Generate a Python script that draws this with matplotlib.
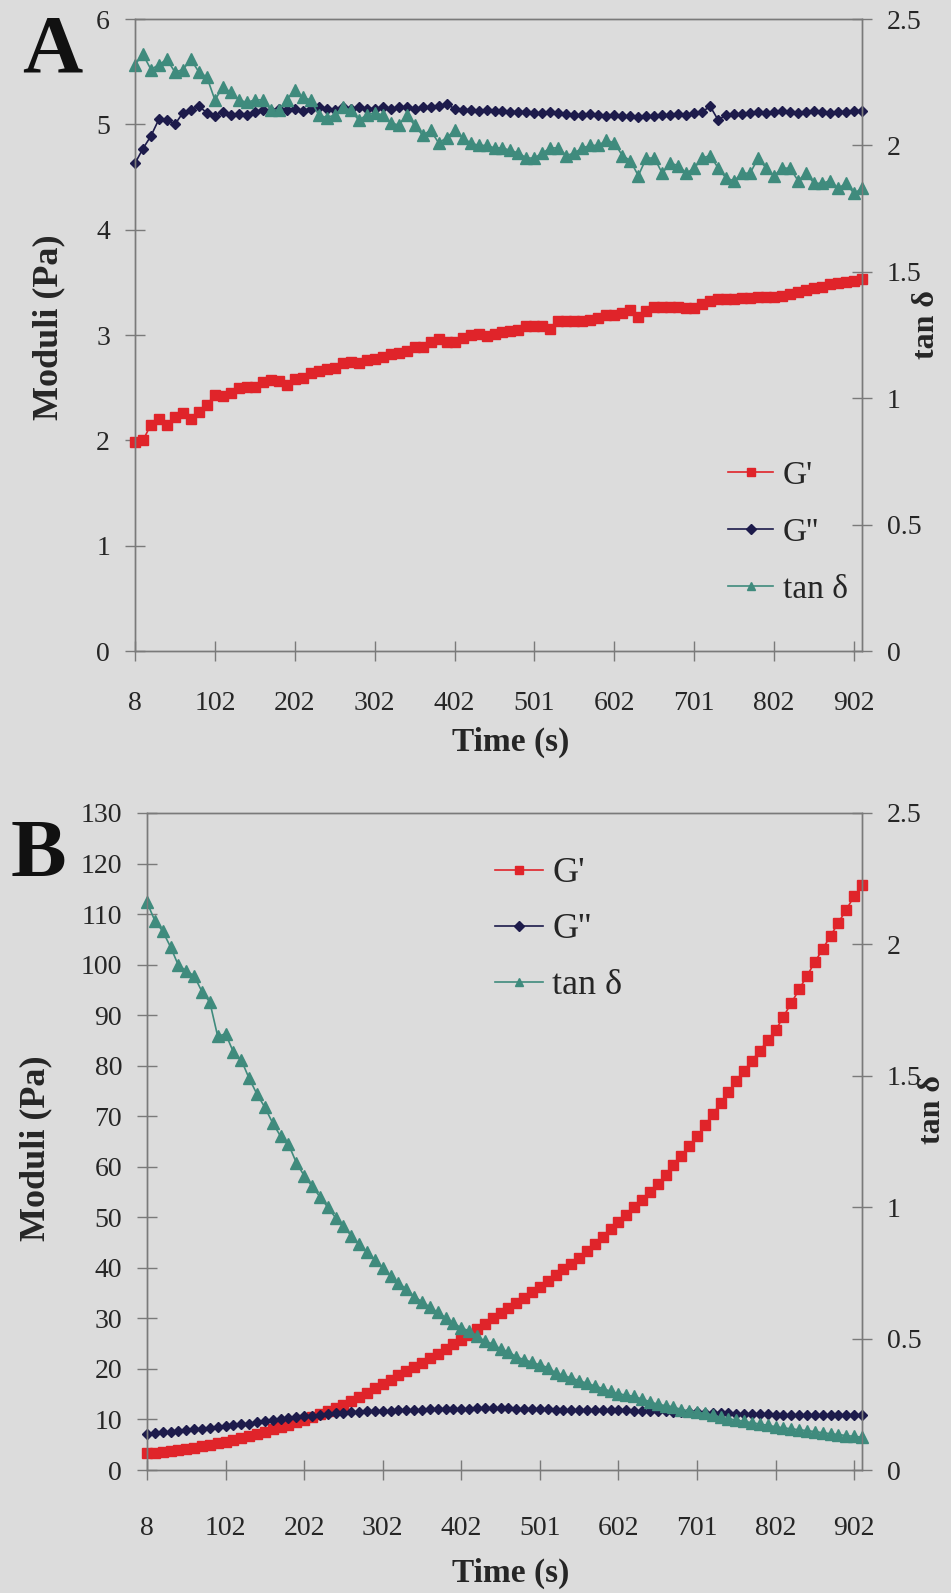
import numpy as np
import matplotlib
matplotlib.use("Agg")
import matplotlib.pyplot as plt

plt.rcParams['font.family'] = ['Liberation Serif', 'DejaVu Serif']

# ---------------- data ----------------
time_labels = ["8", "102", "202", "302", "402", "501", "602", "701", "802", "902"]

a_g1 = [1.98, 2.00, 2.15, 2.20, 2.15, 2.22, 2.26, 2.20, 2.27, 2.34,
        2.43, 2.42, 2.45, 2.50, 2.51, 2.51, 2.55, 2.57, 2.56, 2.53,
        2.58, 2.59, 2.64, 2.66, 2.68, 2.69, 2.73, 2.74, 2.73, 2.76,
        2.77, 2.79, 2.82, 2.83, 2.85, 2.89, 2.89, 2.93, 2.96, 2.93,
        2.93, 2.97, 3.00, 3.01, 2.99, 3.01, 3.03, 3.04, 3.05, 3.09,
        3.09, 3.09, 3.06, 3.13, 3.13, 3.13, 3.13, 3.14, 3.16, 3.19,
        3.19, 3.21, 3.24, 3.17, 3.23, 3.27, 3.27, 3.27, 3.27, 3.26,
        3.26, 3.29, 3.32, 3.34, 3.34, 3.34, 3.35, 3.35, 3.36, 3.36,
        3.36, 3.37, 3.39, 3.41, 3.43, 3.45, 3.46, 3.48, 3.49, 3.50,
        3.51, 3.53]

a_g2 = [4.63, 4.77, 4.89, 5.05, 5.04, 5.00, 5.11, 5.14, 5.17, 5.11,
        5.08, 5.12, 5.09, 5.10, 5.09, 5.12, 5.14, 5.13, 5.15, 5.14,
        5.15, 5.13, 5.15, 5.16, 5.15, 5.14, 5.16, 5.15, 5.16, 5.15,
        5.15, 5.16, 5.15, 5.16, 5.16, 5.15, 5.16, 5.16, 5.17, 5.19,
        5.15, 5.14, 5.14, 5.13, 5.14, 5.13, 5.13, 5.12, 5.12, 5.12,
        5.11, 5.11, 5.12, 5.11, 5.10, 5.09, 5.09, 5.10, 5.09, 5.08,
        5.09, 5.08, 5.08, 5.07, 5.08, 5.08, 5.09, 5.09, 5.10, 5.09,
        5.11, 5.12, 5.17, 5.04, 5.09, 5.10, 5.10, 5.11, 5.12, 5.11,
        5.12, 5.13, 5.12, 5.11, 5.12, 5.13, 5.12, 5.11, 5.12, 5.12,
        5.13, 5.13]

a_tan = [2.32, 2.36, 2.30, 2.32, 2.34, 2.29, 2.30, 2.34, 2.29, 2.27,
         2.18, 2.23, 2.21, 2.18, 2.17, 2.18, 2.18, 2.14, 2.14, 2.18,
         2.22, 2.19, 2.18, 2.12, 2.11, 2.12, 2.15, 2.14, 2.10, 2.12,
         2.13, 2.12, 2.09, 2.08, 2.12, 2.08, 2.04, 2.06, 2.01, 2.03,
         2.06, 2.03, 2.01, 2.00, 2.00, 1.99, 1.99, 1.98, 1.97, 1.95,
         1.95, 1.97, 1.99, 1.99, 1.96, 1.97, 1.99, 2.00, 2.00, 2.02,
         2.01, 1.96, 1.94, 1.88, 1.95, 1.95, 1.89, 1.93, 1.92, 1.89,
         1.91, 1.95, 1.96, 1.91, 1.87, 1.86, 1.89, 1.89, 1.95, 1.91,
         1.88, 1.91, 1.91, 1.86, 1.89, 1.85, 1.85, 1.86, 1.83, 1.85,
         1.81, 1.83]

b_g1 = [3.3, 3.45, 3.6, 3.75, 3.95, 4.1, 4.4, 4.7, 5.0, 5.3,
        5.6, 6.0, 6.4, 6.8, 7.2, 7.6, 8.1, 8.5, 9.0, 9.4,
        9.9, 10.5, 11.1, 11.7, 12.3, 12.9, 13.7, 14.5, 15.3, 16.2,
        17.0, 17.8, 18.7, 19.5, 20.4, 21.2, 22.1, 23.0, 23.9, 24.9,
        25.8, 26.8, 27.9, 28.9, 30.0, 31.0, 32.0, 33.1, 34.1, 35.2,
        36.2, 37.4, 38.5, 39.7, 40.8, 42.0, 43.4, 44.8, 46.2, 47.6,
        49.0, 50.5, 52.0, 53.5, 55.0, 56.5, 58.4, 60.3, 62.2, 64.1,
        66.0, 68.2, 70.4, 72.6, 74.8, 77.0, 79.0, 81.0, 83.0, 85.0,
        87.0, 89.7, 92.4, 95.1, 97.8, 100.5, 103.1, 105.7, 108.3, 110.9,
        113.5, 115.8]

b_g2 = [7.2, 7.3, 7.5, 7.6, 7.8, 7.9, 8.1, 8.2, 8.4, 8.5,
        8.7, 8.9, 9.1, 9.2, 9.4, 9.6, 9.8, 10.0, 10.2, 10.4,
        10.6, 10.7, 10.9, 11.0, 11.2, 11.3, 11.4, 11.5, 11.6, 11.6,
        11.7, 11.7, 11.8, 11.8, 11.9, 11.9, 12.0, 12.0, 12.0, 12.1,
        12.1, 12.1, 12.2, 12.2, 12.2, 12.2, 12.2, 12.1, 12.1, 12.0,
        12.0, 12.0, 11.9, 11.9, 11.9, 11.9, 11.9, 11.8, 11.8, 11.8,
        11.8, 11.8, 11.7, 11.7, 11.6, 11.6, 11.6, 11.5, 11.5, 11.4,
        11.4, 11.3, 11.3, 11.2, 11.2, 11.1, 11.1, 11.0, 11.0, 11.0,
        10.9, 10.9, 10.9, 10.9, 10.9, 10.9, 10.9, 10.9, 10.9, 10.9,
        10.9, 10.9]

b_tan = [2.16, 2.09, 2.05, 1.99, 1.92, 1.90, 1.88, 1.82, 1.78, 1.65,
         1.66, 1.59, 1.56, 1.49, 1.43, 1.38, 1.32, 1.27, 1.24, 1.17,
         1.12, 1.08, 1.04, 1.00, 0.96, 0.93, 0.89, 0.86, 0.83, 0.80,
         0.77, 0.74, 0.71, 0.69, 0.66, 0.64, 0.62, 0.60, 0.58, 0.56,
         0.54, 0.53, 0.51, 0.49, 0.48, 0.46, 0.45, 0.43, 0.42, 0.41,
         0.40, 0.39, 0.37, 0.36, 0.35, 0.34, 0.33, 0.32, 0.31, 0.30,
         0.29, 0.285, 0.28, 0.27, 0.26, 0.25, 0.245, 0.24, 0.23, 0.225,
         0.22, 0.215, 0.21, 0.20, 0.195, 0.19, 0.185, 0.18, 0.175, 0.17,
         0.165, 0.16, 0.157, 0.153, 0.15, 0.146, 0.142, 0.138, 0.135, 0.131,
         0.128, 0.125]

a_left_ticks = [0, 1, 2, 3, 4, 5, 6]
b_left_ticks = [0, 10, 20, 30, 40, 50, 60, 70, 80, 90, 100, 110, 120, 130]
right_ticks = [0, 0.5, 1, 1.5, 2, 2.5]
right_labels = ["0", "0.5", "1", "1.5", "2", "2.5"]
series_names = ["G'", "G''", "tan δ"]

# ---------------- style ----------------
W, H = 951, 1593
BG = '#dcdcdc'
RED = '#e0242a'
NAVY = '#1d1b4b'
TEAL = '#3f8b7d'
SPINE = '#7a7a7a'
TXT = '#262626'
TICKSIZE = 20

fig = plt.figure(figsize=(W / 100, H / 100), dpi=100, facecolor=BG)


def px_axes(l, t, r, b):
    return fig.add_axes([l / W, 1 - b / H, (r - l) / W, (b - t) / H])


def ftext(x, y, s, **kw):
    fig.text(x / W, 1 - y / H, s, **kw)


def style(ax, ax2, xpad):
    for a in (ax, ax2):
        a.set_facecolor('none')
        for sp in a.spines.values():
            sp.set_color(SPINE)
            sp.set_linewidth(1.0)
    ax.tick_params(axis='both', direction='inout', length=14, width=1,
                   color=SPINE, labelsize=TICKSIZE, labelcolor=TXT)
    ax.tick_params(axis='y', pad=11)
    ax.tick_params(axis='x', pad=xpad)
    ax2.tick_params(axis='y', direction='inout', length=14, width=1,
                    color=SPINE, labelsize=TICKSIZE, labelcolor=TXT, pad=11)
    ax.tick_params(top=False)


def panel(ax, ax2, g1, g2, tan, yticks, ymax, sq, dm, tr):
    x1 = np.arange(len(g1))
    x2 = np.arange(len(g2))
    x3 = np.arange(len(tan))
    l1, = ax.plot(x1, g1, color=RED, lw=1.2, marker='s', ms=sq, mec=RED, mfc=RED,
                  clip_on=False, label=series_names[0])
    l2, = ax.plot(x2, g2, color=NAVY, lw=1.2, marker='D', ms=dm, mec=NAVY, mfc=NAVY,
                  clip_on=False, label=series_names[1])
    l3, = ax2.plot(x3, tan, color=TEAL, lw=1.2, marker='^', ms=tr, mec=TEAL, mfc=TEAL,
                   clip_on=False, label=series_names[2])
    ax.set_xlim(0, 91)
    ax.set_ylim(0, ymax)
    ax2.set_ylim(0, 2.5)
    ax.set_xticks(np.arange(0, 91, 10))
    ax.set_xticklabels(time_labels)
    ax.set_yticks(yticks)
    ax.set_yticklabels([str(v) for v in yticks])
    ax2.set_yticks(right_ticks)
    ax2.set_yticklabels(right_labels)
    return [l1, l2, l3]


# ---------------- panel A ----------------
axA = px_axes(135, 19, 862, 651)
axA2 = axA.twinx()
hA = panel(axA, axA2, a_g1, a_g2, a_tan, a_left_ticks, 6, 7.0, 5.6, 9.0)
style(axA, axA2, 22)
legA = axA2.legend(hA, series_names, loc='upper left',
                   bbox_to_anchor=(728 / W, 1 - 460 / H), bbox_transform=fig.transFigure,
                   frameon=False, fontsize=24, handlelength=1.35, handletextpad=0.3,
                   labelspacing=0.8, borderpad=0, borderaxespad=0, numpoints=1)
for t in legA.get_texts():
    t.set_color(TXT)
for lh in legA.legend_handles:
    lh.set_markersize(5.5)

# ---------------- panel B ----------------
axB = px_axes(147, 813, 862, 1470)
axB2 = axB.twinx()
hB = panel(axB, axB2, b_g1, b_g2, b_tan, b_left_ticks, 130, 7.0, 5.6, 9.0)
style(axB, axB2, 26)
legB = axB2.legend(hB, series_names, loc='upper left',
                   bbox_to_anchor=(495 / W, 1 - 857 / H), bbox_transform=fig.transFigure,
                   frameon=False, fontsize=26, handlelength=1.33, handletextpad=0.25,
                   labelspacing=0.63, borderpad=0, borderaxespad=0, numpoints=1)
for t in legB.get_texts():
    t.set_color(TXT)
for lh in legB.legend_handles:
    lh.set_markersize(5.5)

# ---------------- labels ----------------
ftext(52, 52, "A", fontsize=60, fontweight='bold', ha='center', va='center', color='#111111')
ftext(38, 857, "B", fontsize=60, fontweight='bold', ha='center', va='center', color='#111111')

for (x, y) in [(49, 327), (36, 1148)]:
    ftext(x, y, "Moduli (Pa)", fontsize=26, fontweight='bold', rotation=90,
          ha='center', va='center', color=TXT)
for (x, y) in [(927, 325), (932, 1110)]:
    ftext(x, y, "tan δ", fontsize=23, fontweight='bold', rotation=90,
          ha='center', va='center', color=TXT)
for (x, y) in [(511, 742), (511, 1573)]:
    ftext(x, y, "Time (s)", fontsize=24, fontweight='bold',
          ha='center', va='center', color=TXT)

fig.savefig("out.png", dpi=100, facecolor=BG)
